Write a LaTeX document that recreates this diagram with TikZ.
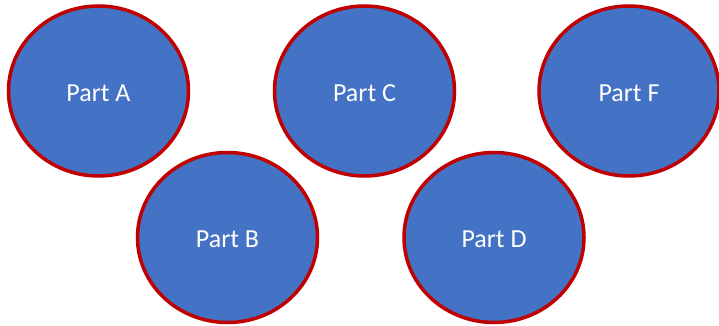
\documentclass[tikz,border=0pt]{standalone}
\usepackage{fontspec}
\setmainfont{Carlito}
\usetikzlibrary{shapes.geometric}
\definecolor{partfill}{HTML}{4472C4}
\definecolor{partline}{HTML}{C00000}
\newcommand{\parttext}[1]{\raisebox{0pt}[22pt][1.2pt]{#1}}
\begin{document}
\begin{tikzpicture}[x=1pt,y=-1pt,
  part/.style={ellipse, draw=partline, fill=partfill, line width=3.5pt,
    minimum width=180pt, minimum height=170pt, inner sep=0pt,
    text=white, font=\fontsize{26}{30}\selectfont}]
\useasboundingbox (0,0) rectangle (719,326);
\node[part] (a) at (98.5,91) {\parttext{Part A}};
\node[part] (c) at (364.5,91) {\parttext{Part C}};
\node[part] (f) at (629,91) {\parttext{Part F}};
\node[part] (b) at (227.5,237.5) {\parttext{Part B}};
\node[part] (d) at (494,237.5) {\parttext{Part D}};
\end{tikzpicture}
\end{document}
